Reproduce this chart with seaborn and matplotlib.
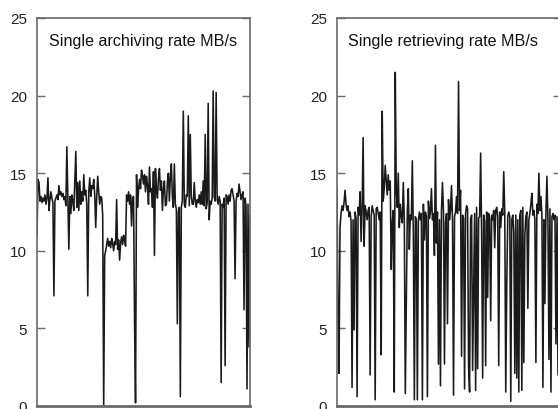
import numpy as np
import pandas as pd
import matplotlib
matplotlib.use("Agg")
import matplotlib.pyplot as plt
import seaborn as sns

archiving_title = "Single archiving rate MB/s"
retrieving_title = "Single retrieving rate MB/s"
y_ticks = [0, 5, 10, 15, 20, 25]

archiving_rate = [
    11.0, 14.6, 14.4, 13.2, 13.5, 13.1, 13.4, 13.2, 13.6, 13.0,
    13.4, 14.7, 12.6, 13.3, 13.8, 13.4, 13.1, 7.1, 13.2, 13.4,
    13.6, 13.3, 14.2, 13.6, 13.8, 13.5, 13.7, 13.3, 13.5, 12.9,
    16.7, 13.4, 10.1, 13.5, 12.4, 13.6, 13.2, 12.6, 14.5, 16.4,
    12.8, 14.4, 12.6, 14.5, 13.0, 13.8, 13.2, 14.9, 13.6, 13.9,
    13.0, 7.1, 13.8, 14.7, 13.5, 14.2, 14.0, 14.6, 13.6, 11.5,
    13.5, 14.8, 13.8, 13.0, 13.5, 13.4, 12.3, 0.0, 9.7, 10.0,
    10.4, 10.8, 10.3, 10.6, 10.2, 10.8, 10.5, 10.0, 10.6, 10.4,
    13.3, 10.1, 10.7, 9.4, 10.5, 10.9, 10.4, 11.0, 10.7, 10.3,
    13.6, 13.2, 13.8, 13.0, 13.6, 11.6, 13.4, 13.5, 5.5, 0.2,
    14.9, 12.8, 13.9, 14.6, 14.0, 15.2, 14.8, 14.3, 14.9, 13.8,
    14.8, 14.2, 13.0, 15.4, 13.8, 14.0, 12.8, 15.1, 9.7, 15.3,
    14.0, 13.4, 14.6, 15.3, 13.9, 14.5, 12.6, 14.0, 14.5, 12.9,
    13.0, 14.4, 15.0, 13.2, 14.8, 15.6, 13.5, 12.8, 15.6, 13.0,
    12.7, 5.3, 12.5, 12.8, 0.6, 12.8, 13.2, 19.0, 13.0, 12.8,
    13.6, 13.5, 18.7, 12.9, 17.5, 13.5, 13.0, 13.0, 14.4, 13.2,
    12.8, 13.3, 13.1, 13.6, 13.0, 13.8, 13.0, 14.5, 12.9, 17.5,
    12.7, 13.1, 19.5, 12.0, 13.2, 13.0, 13.4, 20.3, 13.5, 13.2,
    20.2, 13.3, 13.0, 13.5, 13.2, 1.5, 13.0, 12.8, 13.4, 2.6,
    13.6, 13.5, 13.0, 13.6, 13.2, 13.9, 14.0, 13.6, 13.2, 8.2,
    13.2, 13.7, 13.5, 14.3, 13.8, 13.3, 13.6, 13.8, 6.2, 13.4,
    12.9, 1.1, 13.0, 3.8, 12.3,
]

retrieving_rate = [
    14.0, 6.0, 2.1, 11.5, 12.4, 12.9, 12.6, 13.1, 13.9, 13.0,
    12.6, 12.9, 12.2, 12.5, 11.9, 1.2, 12.0, 4.9, 12.5, 12.1,
    0.6, 12.8, 12.3, 13.8, 10.6, 12.7, 17.3, 10.3, 12.9, 12.5,
    12.0, 12.6, 12.8, 2.0, 12.2, 12.9, 12.6, 12.3, 0.4, 12.7,
    12.8, 12.4, 12.0, 12.5, 3.3, 19.0, 13.2, 14.0, 15.5, 14.5,
    13.6, 14.9, 13.9, 14.5, 8.8, 11.8, 12.6, 0.9, 21.5, 14.0,
    12.8, 15.0, 11.5, 13.0, 12.2, 11.8, 14.4, 12.0, 0.8, 6.9,
    12.5, 14.0, 10.1, 12.3, 12.0, 15.8, 11.0, 0.4, 12.2, 12.0,
    0.4, 11.9, 12.5, 12.0, 12.4, 0.4, 13.0, 10.7, 12.5, 12.2,
    0.6, 13.2, 12.1, 12.5, 14.0, 12.0, 12.4, 9.7, 16.8, 10.5,
    12.5, 2.7, 12.0, 1.3, 12.6, 14.4, 12.5, 2.7, 11.8, 12.4,
    5.3, 13.3, 12.0, 12.6, 14.2, 12.0, 0.7, 12.2, 12.5, 13.5,
    12.4, 20.9, 12.6, 13.9, 3.2, 12.3, 12.1, 1.1, 12.4, 12.9,
    12.7, 2.5, 0.9, 12.0, 12.3, 2.3, 7.6, 12.4, 1.0, 12.8,
    2.4, 12.1, 12.2, 16.3, 11.0, 1.8, 12.3, 11.9, 2.6, 12.5,
    7.0, 12.4, 12.1, 5.5, 12.3, 12.0, 12.6, 10.2, 12.6, 12.8,
    12.2, 2.6, 12.5, 11.5, 12.7, 12.3, 15.1, 12.5, 0.9, 7.8,
    12.2, 12.5, 12.2, 0.3, 12.0, 12.3, 11.2, 2.1, 12.3, 1.8,
    12.0, 0.9, 12.3, 12.6, 1.0, 12.8, 2.8, 11.0, 12.2, 12.5,
    6.3, 12.0, 12.4, 13.0, 13.7, 12.3, 12.6, 12.0, 2.8, 13.0,
    12.4, 15.0, 12.6, 13.5, 12.3, 1.2, 12.0, 6.6, 12.5, 14.8,
    12.0, 3.0, 12.7, 0.9, 12.2, 12.4, 12.0, 12.3, 4.0, 12.2,
    2.0, 14.6,
]

sns.set_style("white")
plt.rcParams['font.family'] = ['Liberation Sans', 'DejaVu Sans']

W, H = 558, 410
fig = plt.figure(figsize=(W / 100, H / 100), dpi=100)
ax1 = fig.add_axes([37 / W, 3 / H, 213 / W, 388 / H])
ax2 = fig.add_axes([337 / W, 3 / H, 224 / W, 388 / H])

spine_col = "#6a6a6a"
line_col = "#1a1a1a"

def style(ax, series, title, xmax, tx):
    df = pd.DataFrame({"t": np.arange(len(series)), "rate": series})
    sns.lineplot(data=df, x="t", y="rate", ax=ax, color=line_col, linewidth=1.15)
    ax.set_xlim(0, xmax)
    ax.set_ylim(0, 25)
    ax.set_yticks(y_ticks)
    ax.set_yticklabels([str(v) for v in y_ticks], fontsize=11, color="#222222")
    ax.set_xticks([])
    ax.set_xlabel("")
    ax.set_ylabel("")
    ax.tick_params(axis="y", direction="in", length=6, width=1, color=spine_col,
                   left=True, right=True, labelleft=True, labelright=False, pad=7)
    for s in ax.spines.values():
        s.set_color(spine_col)
        s.set_linewidth(1.2)
    ax.spines["bottom"].set_linewidth(2.0)
    ax.text(tx, 0.930, title, transform=ax.transAxes, fontsize=11.6,
            ha="left", va="baseline", color="#111111")

style(ax1, archiving_rate, archiving_title, len(archiving_rate) - 1, 0.056)
style(ax2, retrieving_rate, retrieving_title, len(retrieving_rate) + 1, 0.049)

fig.savefig("out.png", dpi=100)
